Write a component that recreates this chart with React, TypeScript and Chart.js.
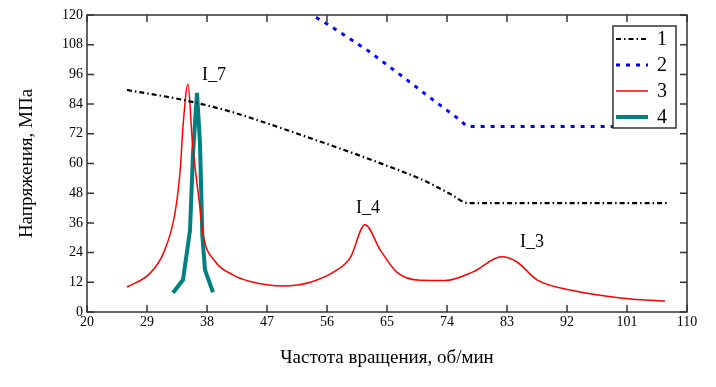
import { useEffect, useRef } from "react";
import { Chart, registerables } from "chart.js";

Chart.register(...registerables);

const xMin = 20;
const xMax = 110;
const xStep = 9;
const yMin = 0;
const yMax = 120;
const yStep = 12;

const xTitle = "Частота вращения, об/мин";
const yTitle = "Напряжения, МПа";

const legendLabels = ["1", "2", "3", "4"];

const seriesOneX = [26, 34.4, 41.5, 45.6, 53, 59.9, 63.5, 70.4, 74.5, 77.2, 107];
const seriesOneY = [89.7, 85.7, 81, 77.5, 70.7, 64.2, 60.6, 53.3, 47.7, 44, 44];

const seriesTwoX = [52, 53.75, 56, 62, 67.4, 71.9, 75.5, 77, 107];
const seriesTwoY = [124, 120, 116.4, 105.9, 95, 85.7, 78.5, 75, 75];

const seriesThreeX = [26, 29.4, 31.5, 33.2, 34.0, 34.4, 35.15, 35.8, 36.95, 37.4, 39.2, 41.9, 44.5, 49.4, 53.5, 57.5, 59.5, 61.7, 64, 66.5, 70, 73.7, 77.9, 82.2, 84.5, 87.5, 92.5, 100, 106.7];
const seriesThreeY = [10.1, 15.5, 24, 40, 58, 75, 92, 69, 42, 31.5, 20.5, 15, 12.3, 10.5, 12, 17, 22, 35.3, 25, 16, 12.8, 12.7, 16.2, 22.3, 20.2, 13, 8.9, 5.7, 4.4];

const seriesFourX = [32.9, 34.4, 35.45, 35.9, 36.5, 36.95, 37.3, 37.7, 38.9];
const seriesFourY = [7.8, 13, 33, 64, 88.5, 68, 31, 17, 8];

const peakLabels = ["I_7", "I_4", "I_3"];
const peakLabelX = [39.05, 62.15, 86.75];
const peakLabelY = [95.8, 42, 28.3];

const zip = (xs: number[], ys: number[]) => xs.map((x, i) => ({ x, y: ys[i] }));

const FONT = "'Liberation Serif', 'Times New Roman', serif";

const framePlugin = {
  id: "framePlugin",
  afterDraw(chart: any) {
    const { ctx, chartArea: a, scales } = chart;
    const xs = scales.x;
    const ys = scales.y;
    ctx.save();

    // peak labels
    ctx.font = `18px ${FONT}`;
    ctx.fillStyle = "#000";
    ctx.textAlign = "center";
    ctx.textBaseline = "middle";
    peakLabels.forEach((t, i) => {
      ctx.fillText(t, xs.getPixelForValue(peakLabelX[i]), ys.getPixelForValue(peakLabelY[i]));
    });

    // frame
    ctx.strokeStyle = "#333";
    ctx.lineWidth = 1.5;
    ctx.setLineDash([]);
    ctx.strokeRect(a.left, a.top, a.right - a.left, a.bottom - a.top);

    // inward ticks
    const tl = 7;
    ctx.beginPath();
    xs.ticks.forEach((t: any) => {
      const px = xs.getPixelForValue(t.value);
      ctx.moveTo(px, a.bottom);
      ctx.lineTo(px, a.bottom - tl);
      ctx.moveTo(px, a.top);
      ctx.lineTo(px, a.top + tl);
    });
    ys.ticks.forEach((t: any) => {
      const py = ys.getPixelForValue(t.value);
      ctx.moveTo(a.left, py);
      ctx.lineTo(a.left + tl, py);
      ctx.moveTo(a.right, py);
      ctx.lineTo(a.right - tl, py);
    });
    ctx.stroke();

    // legend box
    const bx = a.right - 74;
    const by = a.top + 11;
    const bw = 63;
    const bh = 102;
    ctx.fillStyle = "#fff";
    ctx.fillRect(bx, by, bw, bh);
    ctx.strokeStyle = "#333";
    ctx.lineWidth = 1.5;
    ctx.strokeRect(bx, by, bw, bh);
    ctx.font = `20px ${FONT}`;
    ctx.textAlign = "left";
    ctx.textBaseline = "middle";
    chart.data.datasets.forEach((ds: any, i: number) => {
      const ry = by + 13 + i * 26;
      ctx.beginPath();
      ctx.setLineDash(ds.borderDash || []);
      ctx.strokeStyle = ds.borderColor;
      ctx.lineWidth = ds.borderWidth;
      ctx.moveTo(bx + 3, ry);
      ctx.lineTo(bx + 35, ry);
      ctx.stroke();
      ctx.setLineDash([]);
      ctx.fillStyle = "#000";
      ctx.fillText(legendLabels[i], bx + 44, ry + 1);
    });

    ctx.restore();
  },
};

export default function App() {
  const ref = useRef<HTMLCanvasElement | null>(null);

  useEffect(() => {
    document.body.style.margin = "0";
    if (!ref.current) return;
    Chart.defaults.font.family = FONT;
    const chart = new Chart(ref.current, {
      type: "line",
      data: {
        datasets: [
          {
            label: legendLabels[0],
            data: zip(seriesOneX, seriesOneY),
            borderColor: "#000",
            borderWidth: 2.2,
            borderDash: [5, 3, 1.5, 3],
            pointRadius: 0,
            fill: false,
            cubicInterpolationMode: "monotone",
            clip: 0,
          },
          {
            label: legendLabels[1],
            data: zip(seriesTwoX, seriesTwoY),
            borderColor: "#0000ff",
            borderWidth: 3,
            borderDash: [4, 6],
            pointRadius: 0,
            fill: false,
            clip: 0,
          },
          {
            label: legendLabels[2],
            data: zip(seriesThreeX, seriesThreeY),
            borderColor: "#ff0000",
            borderWidth: 1.5,
            pointRadius: 0,
            fill: false,
            cubicInterpolationMode: "monotone",
            clip: 0,
          },
          {
            label: legendLabels[3],
            data: zip(seriesFourX, seriesFourY),
            borderColor: "#008080",
            borderWidth: 4,
            pointRadius: 0,
            fill: false,
            clip: 0,
          },
        ],
      } as any,
      options: {
        animation: false,
        responsive: false,
        devicePixelRatio: 1,
        layout: { padding: { top: 15, right: 29, left: 0, bottom: 0 } },
        plugins: { legend: { display: false }, tooltip: { enabled: false } },
        scales: {
          x: {
            type: "linear",
            min: xMin,
            max: xMax,
            grid: { display: false, drawTicks: false },
            border: { display: false },
            ticks: {
              stepSize: xStep,
              color: "#000",
              padding: 2,
              maxRotation: 0,
              autoSkip: false,
              font: { size: 14, family: FONT },
            },
            title: {
              display: true,
              text: xTitle,
              color: "#000",
              font: { size: 19, family: FONT },
              padding: { top: 0, bottom: 18 },
            },
            afterFit(s: any) {
              s.height = 75;
            },
          },
          y: {
            type: "linear",
            min: yMin,
            max: yMax,
            grid: { display: false, drawTicks: false },
            border: { display: false },
            ticks: {
              stepSize: yStep,
              color: "#000",
              padding: 4,
              autoSkip: false,
              font: { size: 14, family: FONT },
            },
            title: {
              display: true,
              text: yTitle,
              color: "#000",
              font: { size: 19, family: FONT },
              padding: { top: 16, bottom: 0 },
            },
            afterFit(s: any) {
              s.width = 87;
            },
          },
        },
      } as any,
      plugins: [framePlugin],
    });
    return () => chart.destroy();
  }, []);

  return (
    <div style={{ width: 716, height: 387 }}>
      <canvas ref={ref} width={716} height={387} style={{ display: "block" }} />
    </div>
  );
}
